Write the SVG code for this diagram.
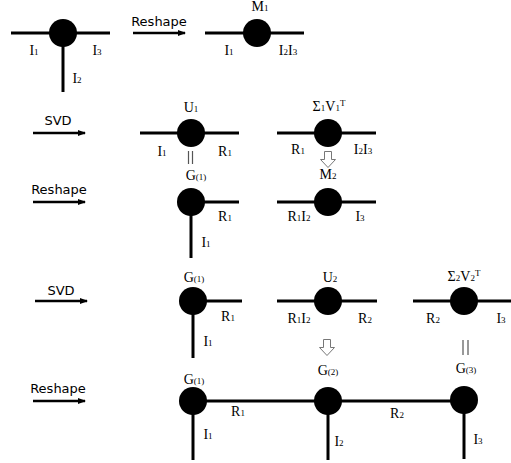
<svg xmlns="http://www.w3.org/2000/svg" width="511" height="463" viewBox="0 0 511 463">
<style>
.ln{stroke:#000;stroke-width:3;fill:none}
.nd{fill:#000}
.lb{font-family:"Liberation Serif",serif;font-size:14px;fill:#000;text-anchor:middle}
.s{font-size:9px}
.op{font-family:"DejaVu Sans",sans-serif;font-size:13px;fill:#000;text-anchor:middle}
.ar{stroke:#000;stroke-width:2.5;fill:none;marker-end:url(#ah)}
.eq{stroke:#555;stroke-width:1.2}
.ha{fill:#fff;stroke:#777;stroke-width:1}
</style>
<defs>
<marker id="ah" markerWidth="8" markerHeight="6" refX="7" refY="3" orient="auto" markerUnits="userSpaceOnUse">
<path d="M0,0 L8,3 L0,6 Z" fill="#000"/>
</marker>
</defs>
<g id="connectors">
<line class="ar" x1="133" y1="33" x2="185" y2="33"/>
<line class="ar" x1="33" y1="133" x2="85" y2="133"/>
<line class="ar" x1="33" y1="202" x2="85" y2="202"/>
<line class="ar" x1="35" y1="301" x2="87" y2="301"/>
<line class="ar" x1="33" y1="401" x2="85" y2="401"/>
<line class="eq" x1="188.5" y1="151" x2="188.5" y2="164"/>
<line class="eq" x1="192.5" y1="151" x2="192.5" y2="164"/>
<line class="eq" x1="463" y1="340" x2="463" y2="355"/>
<line class="eq" x1="468" y1="340" x2="468" y2="355"/>
<path class="ha" d="M324.5,151.5 H331.5 V159.5 H335.5 L328,167.5 L320.5,159.5 H324.5 Z"/>
<path class="ha" d="M323.5,339.5 H330.5 V347.5 H334.5 L327,355.5 L319.5,347.5 H323.5 Z"/>
</g>
<g id="ops">
<text class="op" x="159" y="26">Reshape</text>
<text class="op" x="58" y="125">SVD</text>
<text class="op" x="59" y="194">Reshape</text>
<text class="op" x="61" y="295">SVD</text>
<text class="op" x="58" y="393">Reshape</text>
</g>
<g id="n-t">
<line class="ln" x1="11" y1="33" x2="110" y2="33"/>
<line class="ln" x1="63" y1="33" x2="63" y2="92"/>
<circle class="nd" cx="63" cy="33" r="14"/>
<text class="lb" x="34" y="55">I<tspan class="s">1</tspan></text>
<text class="lb" x="97" y="55">I<tspan class="s">3</tspan></text>
<text class="lb" x="77" y="83">I<tspan class="s">2</tspan></text>
</g>
<g id="n-m1">
<line class="ln" x1="205" y1="33" x2="304" y2="33"/>
<circle class="nd" cx="257" cy="33" r="14"/>
<text class="lb" x="260" y="11">M<tspan class="s">1</tspan></text>
<text class="lb" x="229" y="55">I<tspan class="s">1</tspan></text>
<text class="lb" x="288" y="55">I<tspan class="s">2</tspan>I<tspan class="s">3</tspan></text>
</g>
<g id="n-u1">
<line class="ln" x1="140" y1="133" x2="239" y2="133"/>
<circle class="nd" cx="191" cy="133" r="14"/>
<text class="lb" x="191" y="112">U<tspan class="s">1</tspan></text>
<text class="lb" x="162" y="156">I<tspan class="s">1</tspan></text>
<text class="lb" x="225" y="156">R<tspan class="s">1</tspan></text>
</g>
<g id="n-s1">
<line class="ln" x1="277" y1="133" x2="376" y2="133"/>
<circle class="nd" cx="328" cy="133" r="14"/>
<text class="lb" x="329" y="111">Σ<tspan class="s">1</tspan>V<tspan class="s">1</tspan><tspan class="s" dy="-5">T</tspan></text>
<text class="lb" x="298" y="154">R<tspan class="s">1</tspan></text>
<text class="lb" x="363" y="154">I<tspan class="s">2</tspan>I<tspan class="s">3</tspan></text>
</g>
<g id="n-g1a">
<line class="ln" x1="191" y1="202" x2="239" y2="202"/>
<line class="ln" x1="191" y1="202" x2="191" y2="258"/>
<circle class="nd" cx="191" cy="202" r="14"/>
<text class="lb" x="196" y="180">G<tspan class="s">(1)</tspan></text>
<text class="lb" x="225" y="221">R<tspan class="s">1</tspan></text>
<text class="lb" x="206" y="247">I<tspan class="s">1</tspan></text>
</g>
<g id="n-m2">
<line class="ln" x1="277" y1="202" x2="376" y2="202"/>
<circle class="nd" cx="328" cy="202" r="14"/>
<text class="lb" x="328" y="179">M<tspan class="s">2</tspan></text>
<text class="lb" x="299" y="221">R<tspan class="s">1</tspan>I<tspan class="s">2</tspan></text>
<text class="lb" x="360" y="221">I<tspan class="s">3</tspan></text>
</g>
<g id="n-g1b">
<line class="ln" x1="193" y1="301" x2="242" y2="301"/>
<line class="ln" x1="193" y1="301" x2="193" y2="358"/>
<circle class="nd" cx="193" cy="301" r="14"/>
<text class="lb" x="194" y="282">G<tspan class="s">(1)</tspan></text>
<text class="lb" x="228" y="321">R<tspan class="s">1</tspan></text>
<text class="lb" x="208" y="346">I<tspan class="s">1</tspan></text>
</g>
<g id="n-u2">
<line class="ln" x1="277" y1="301" x2="377" y2="301"/>
<circle class="nd" cx="328" cy="301" r="14"/>
<text class="lb" x="330" y="282">U<tspan class="s">2</tspan></text>
<text class="lb" x="299" y="323">R<tspan class="s">1</tspan>I<tspan class="s">2</tspan></text>
<text class="lb" x="365" y="323">R<tspan class="s">2</tspan></text>
</g>
<g id="n-s2">
<line class="ln" x1="413" y1="301" x2="511" y2="301"/>
<circle class="nd" cx="464" cy="301" r="14"/>
<text class="lb" x="464" y="281">Σ<tspan class="s">2</tspan>V<tspan class="s">2</tspan><tspan class="s" dy="-5">T</tspan></text>
<text class="lb" x="433" y="323">R<tspan class="s">2</tspan></text>
<text class="lb" x="501" y="323">I<tspan class="s">3</tspan></text>
</g>
<g id="n-chain">
<line class="ln" x1="193" y1="401" x2="464" y2="401"/>
<line class="ln" x1="193" y1="401" x2="193" y2="460"/>
<line class="ln" x1="328" y1="401" x2="328" y2="460"/>
<line class="ln" x1="464" y1="401" x2="464" y2="459"/>
</g>
<g id="n-g1c">
<circle class="nd" cx="193" cy="401" r="14"/>
<text class="lb" x="194" y="384">G<tspan class="s">(1)</tspan></text>
<text class="lb" x="208" y="439">I<tspan class="s">1</tspan></text>
<text class="lb" x="238" y="416">R<tspan class="s">1</tspan></text>
</g>
<g id="n-g2">
<circle class="nd" cx="328" cy="401" r="14"/>
<text class="lb" x="328" y="375">G<tspan class="s">(2)</tspan></text>
<text class="lb" x="339" y="446">I<tspan class="s">2</tspan></text>
<text class="lb" x="397" y="418">R<tspan class="s">2</tspan></text>
</g>
<g id="n-g3">
<circle class="nd" cx="464" cy="400" r="14"/>
<text class="lb" x="466" y="373">G<tspan class="s">(3)</tspan></text>
<text class="lb" x="478" y="444">I<tspan class="s">3</tspan></text>
</g>
</svg>
